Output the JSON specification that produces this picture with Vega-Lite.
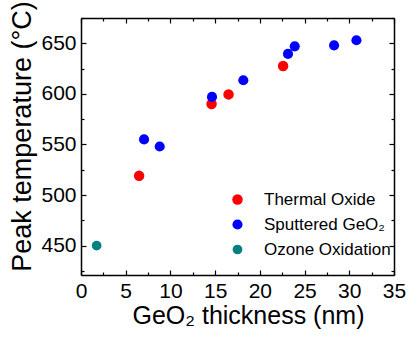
{
  "$schema": "https://vega.github.io/schema/vega-lite/v6.json",
  "autosize": "none",
  "padding": {"left": 81, "top": 18, "right": 12, "bottom": 65},
  "width": 313,
  "height": 257,
  "config": {
    "view": {"stroke": null},
    "font": "Liberation Sans",
    "axis": {"domainColor": "black", "tickColor": "black", "labelColor": "black", "titleColor": "black", "domainWidth": 1.5, "tickWidth": 1.2, "grid": false, "labelFlush": false, "labelFont": "Liberation Sans", "titleFont": "Liberation Sans", "titleFontWeight": "normal"}
  },
  "data": {"values": [
    {"series": "Thermal Oxide", "thickness": 6.5, "temp": 519},
    {"series": "Thermal Oxide", "thickness": 14.6, "temp": 590},
    {"series": "Thermal Oxide", "thickness": 16.5, "temp": 599.5},
    {"series": "Thermal Oxide", "thickness": 22.6, "temp": 627.5},
    {"series": "Sputtered GeO₂", "thickness": 7.05, "temp": 555},
    {"series": "Sputtered GeO₂", "thickness": 8.8, "temp": 548},
    {"series": "Sputtered GeO₂", "thickness": 14.65, "temp": 597},
    {"series": "Sputtered GeO₂", "thickness": 18.15, "temp": 613.5},
    {"series": "Sputtered GeO₂", "thickness": 23.15, "temp": 639.5},
    {"series": "Sputtered GeO₂", "thickness": 23.9, "temp": 647},
    {"series": "Sputtered GeO₂", "thickness": 28.3, "temp": 648},
    {"series": "Sputtered GeO₂", "thickness": 30.8, "temp": 653},
    {"series": "Ozone Oxidation", "thickness": 1.75, "temp": 450}
  ]},
  "resolve": {"axis": {"x": "independent", "y": "independent"}},
  "layer": [
    {
      "mark": {"type": "point", "filled": true, "opacity": 1},
      "encoding": {
        "x": {"field": "thickness", "type": "quantitative", "scale": {"domain": [0, 35], "nice": false, "zero": false, "padding": 0},
          "axis": {"orient": "bottom", "values": [0,5,10,15,20,25,30,35], "tickSize": -5, "labelPadding": 10, "labelFontSize": 21, "title": "GeO₂ thickness (nm)", "titleFontSize": 25, "titlePadding": 2, "titleX": 167}},
        "y": {"field": "temp", "type": "quantitative", "scale": {"domain": [421, 675], "nice": false, "zero": false, "padding": 0},
          "axis": {"orient": "left", "values": [450,500,550,600,650], "tickSize": -5, "labelPadding": 10, "labelFontSize": 21, "title": "Peak temperature (°C)", "titleFontSize": 27, "titlePadding": 4, "titleY": 118}},
        "color": {"field": "series", "type": "nominal",
          "scale": {"domain": ["Thermal Oxide", "Sputtered GeO₂", "Ozone Oxidation"], "range": ["#ff0000", "#0000ff", "#008080"]},
          "legend": {"title": null, "orient": "none", "legendX": 148, "legendY": 173, "labelFontSize": 17, "labelOffset": 18, "rowPadding": 7, "symbolStrokeWidth": 0, "labelColor": "black"}},
        "size": {"field": "series", "type": "nominal",
          "scale": {"domain": ["Thermal Oxide", "Sputtered GeO₂", "Ozone Oxidation"], "range": [110, 95, 60]},
          "legend": null}
      }
    },
    {
      "mark": {"type": "point", "opacity": 0},
      "encoding": {
        "x": {"field": "thickness", "type": "quantitative", "scale": {"domain": [0, 35], "nice": false, "zero": false, "padding": 0}, "axis": {"orient": "top", "values": [0,5,10,15,20,25,30,35], "tickSize": -5, "labels": false, "title": null}},
        "y": {"field": "temp", "type": "quantitative", "scale": {"domain": [421, 675], "nice": false, "zero": false, "padding": 0}, "axis": {"orient": "right", "values": [450,500,550,600,650], "tickSize": -5, "labels": false, "title": null}}
      }
    },
    {
      "mark": {"type": "point", "opacity": 0},
      "encoding": {
        "x": {"field": "thickness", "type": "quantitative", "scale": {"domain": [0, 35], "nice": false, "zero": false, "padding": 0}, "axis": {"orient": "bottom", "values": [2.5,7.5,12.5,17.5,22.5,27.5,32.5], "tickSize": -3, "labels": false, "domain": false, "title": null}},
        "y": {"field": "temp", "type": "quantitative", "scale": {"domain": [421, 675], "nice": false, "zero": false, "padding": 0}, "axis": {"orient": "left", "values": [425,475,525,575,625,675], "tickSize": -3, "labels": false, "domain": false, "title": null}}
      }
    },
    {
      "mark": {"type": "point", "opacity": 0},
      "encoding": {
        "x": {"field": "thickness", "type": "quantitative", "scale": {"domain": [0, 35], "nice": false, "zero": false, "padding": 0}, "axis": {"orient": "top", "values": [2.5,7.5,12.5,17.5,22.5,27.5,32.5], "tickSize": -3, "labels": false, "domain": false, "title": null}},
        "y": {"field": "temp", "type": "quantitative", "scale": {"domain": [421, 675], "nice": false, "zero": false, "padding": 0}, "axis": {"orient": "right", "values": [425,475,525,575,625,675], "tickSize": -3, "labels": false, "domain": false, "title": null}}
      }
    }
  ]
}
